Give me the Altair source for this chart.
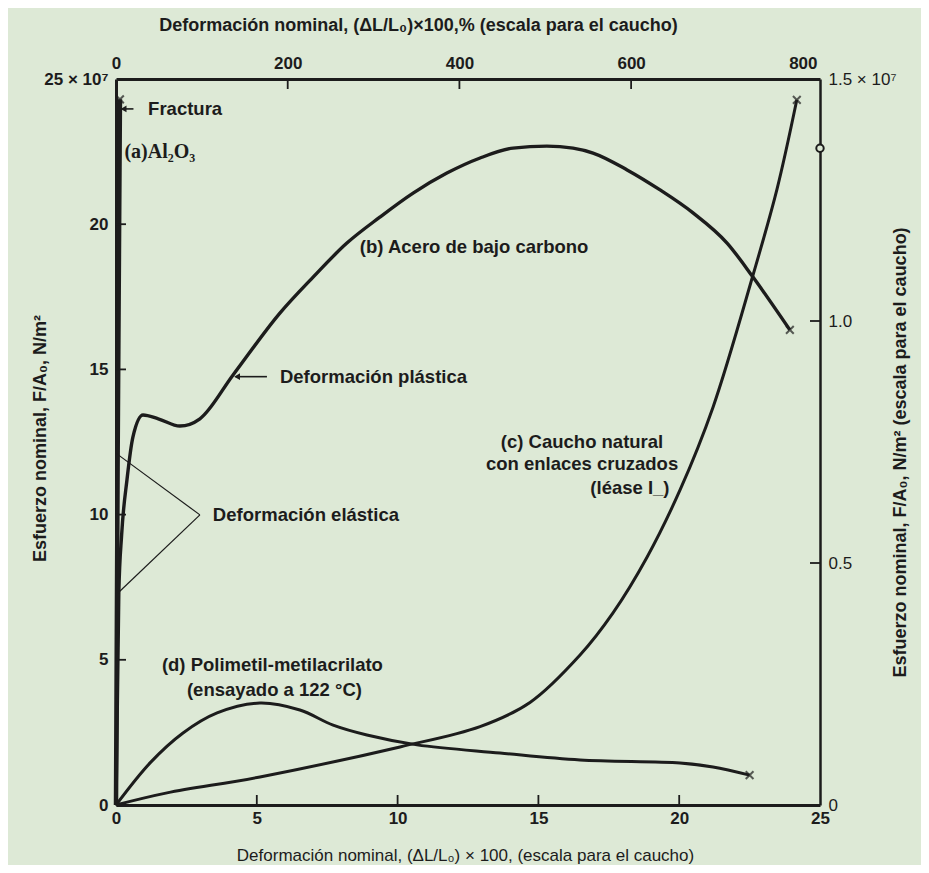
import altair as alt
import pandas as pd

INK = "#1c1c1c"
BG = "#dde9d6"
SANS = "Liberation Sans, Arial, sans-serif"
SERIF = "Liberation Serif, Times New Roman, serif"

# ---------------- data (main scale: strain x100, stress x10^7 N/m^2) -------------
al_strain = [0.0, 0.06, 0.14]
al_stress = [0.0, 12.2, 24.3]

steel_strain = [0.0, 0.1, 0.2, 0.39, 0.6, 0.96, 1.5, 2.27, 2.98, 4.15, 5.82, 7.0,
                8.2, 9.38, 10.55, 11.75, 12.93, 14.1, 15.3, 16.23, 16.94, 18.15,
                19.32, 20.49, 21.7, 22.62, 23.93]
steel_stress = [0.0, 7.3, 9.3, 11.2, 12.67, 13.43, 13.3, 13.05, 13.3, 14.8, 16.94,
                18.18, 19.35, 20.25, 21.07, 21.76, 22.28, 22.62, 22.69, 22.62, 22.45,
                21.87, 21.18, 20.39, 19.35, 18.18, 16.36]

pmma_strain = [0.0, 1.21, 2.38, 3.59, 5.11, 6.53, 7.71, 8.91, 10.69, 13.64, 16.48,
               20.03, 21.2, 22.5]
pmma_stress = [0.0, 1.45, 2.48, 3.17, 3.51, 3.27, 2.75, 2.41, 2.07, 1.79, 1.55,
               1.45, 1.31, 1.03]

# ---------------- rubber (own scale: strain %, stress x10^7 N/m^2) -------------
rub_strain = [0.0, 59.4, 167.7, 330.8, 424.0, 482.2, 540.5, 578.9, 618.5, 657.0,
              695.4, 742.0, 770.0, 793.0]
rub_stress = [0.0, 0.025, 0.058, 0.12, 0.162, 0.212, 0.31, 0.397, 0.512, 0.651,
              0.822, 1.095, 1.273, 1.457]
ring_strain = [820.0]
ring_stress = [1.357]

# fracture marks
frac_strain = [0.14, 23.93, 22.5]
frac_stress = [24.3, 16.36, 1.03]

# axis ticks
bottom_ticks = [0, 5, 10, 15, 20, 25]
left_ticks = [0, 5, 10, 15, 20, 25]
top_ticks = [0, 200, 400, 600, 800]
right_ticks = [0, 0.5, 1.0, 1.5]

# annotations (main scale)
note_labels = ["Fractura", "Deformación plástica", "Deformación elástica",
               "(b) Acero de bajo carbono", "(d) Polimetil-metilacrilato",
               "(ensayado a 122 °C)"]
note_x = [1.14, 5.82, 3.44, 8.66, 1.63, 2.52]
note_y = [23.97, 14.75, 9.99, 19.21, 4.82, 3.96]

center_labels = ["(c) Caucho natural", "con enlaces cruzados", "(léase I_)"]
center_x = [16.55, 16.55, 18.25]
center_y = [12.5, 11.74, 10.92]

serif_labels = ["(a)Al₂O₃"]
serif_x = [0.3]
serif_y = [22.49]

lead_x = [2.98, 2.98, 5.36, 0.62]
lead_y = [9.99, 9.99, 14.75, 23.97]
lead_x2 = [0.02, 0.07, 4.25, 0.22]
lead_y2 = [12.1, 7.3, 14.75, 23.97]
lead_w = [1.2, 1.2, 1.6, 1.6]

head_x = [4.3, 0.27]
head_y = [14.75, 23.97]

# ---------------- frames -------------
al_df = pd.DataFrame({"e": al_strain, "s": al_stress})
steel_df = pd.DataFrame({"e": steel_strain, "s": steel_stress})
pmma_df = pd.DataFrame({"e": pmma_strain, "s": pmma_stress})
rub_df = pd.DataFrame({"e": rub_strain, "s": rub_stress})
ring_df = pd.DataFrame({"e": ring_strain, "s": ring_stress})
frac_df = pd.DataFrame({"e": frac_strain, "s": frac_stress})
rub_frac_df = pd.DataFrame({"e": [rub_strain[-1]], "s": [rub_stress[-1]]})
note_df = pd.DataFrame({"e": note_x, "s": note_y, "label": note_labels})
center_df = pd.DataFrame({"e": center_x, "s": center_y, "label": center_labels})
serif_df = pd.DataFrame({"e": serif_x, "s": serif_y, "label": serif_labels})
lead_df = pd.DataFrame({"e": lead_x, "s": lead_y, "e2": lead_x2, "s2": lead_y2, "w": lead_w})
head_df = pd.DataFrame({"e": head_x, "s": head_y})
bt_df = pd.DataFrame({"e": bottom_ticks[1:-1]})
lt_df = pd.DataFrame({"s": left_ticks[1:-1]})
tt_df = pd.DataFrame({"e": top_ticks[1:-1]})
rt_df = pd.DataFrame({"s": right_ticks[1:-1]})

W, H = 704, 726

XM = alt.Scale(domain=[0, 25], nice=False, zero=False)
YM = alt.Scale(domain=[0, 25], nice=False, zero=False)
XR = alt.Scale(domain=[0, 820], nice=False, zero=False)
YR = alt.Scale(domain=[0, 1.5], nice=False, zero=False)

common_axis = dict(tickSize=0, labelFontSize=17, labelColor=INK,
                   labelFont=SANS, domainColor=INK, grid=False, labelFlush=False,
                   labelOverlap=False, titleColor=INK, titleFont=SANS)

bottom_axis = alt.Axis(orient="bottom", values=bottom_ticks, labelPadding=5, domainWidth=3,
                       labelFontWeight="bold",
                       title="Deformación nominal, (ΔL/L₀) × 100, (escala para el caucho)",
                       titleFontSize=17, titleFontWeight="normal", titleX=349, titleY=50,
                       titleBaseline="middle", **common_axis)
left_axis = alt.Axis(orient="left", values=left_ticks, labelPadding=8, domainWidth=3,
                     labelFontWeight="bold",
                     labelExpr="datum.value == 25 ? '25 × 10⁷' : datum.label",
                     title="Esfuerzo nominal, F/A₀, N/m²", titleFontSize=18,
                     titleFontWeight="bold", titleAngle=270, titleX=-76, titleY=359,
                     titleBaseline="middle", titleAlign="center", **common_axis)
top_axis = alt.Axis(orient="top", values=top_ticks, labelPadding=7, domainWidth=3,
                    labelFontWeight="bold",
                    title="Deformación nominal, (ΔL/L₀)×100,% (escala para el caucho)",
                    titleFontSize=18, titleFontWeight="bold", titleX=302, titleY=-54,
                    titleBaseline="middle", **common_axis)
right_axis = alt.Axis(orient="right", values=right_ticks, labelPadding=8, domainWidth=2.5,
                      labelFontWeight="normal",
                      labelExpr="datum.value == 0 ? '0' : datum.value == 1.5 ? '1.5 × 10⁷' : format(datum.value, '.1f')",
                      title="Esfuerzo nominal, F/A₀, N/m² (escala para el caucho)",
                      titleFontSize=18, titleFontWeight="bold", titleAngle=270, titleX=80,
                      titleY=373, titleBaseline="middle", titleAlign="center", **common_axis)


def ex():
    return alt.X("e:Q", scale=XM, axis=bottom_axis)


def sy():
    return alt.Y("s:Q", scale=YM, axis=left_axis)


steel = alt.Chart(steel_df).mark_line(color=INK, strokeWidth=3.4, interpolate="monotone").encode(
    x=ex(), y=sy())
al = alt.Chart(al_df).mark_line(color=INK, strokeWidth=4.5).encode(x=ex(), y=sy())
pmma = alt.Chart(pmma_df).mark_line(color=INK, strokeWidth=3, interpolate="catmull-rom").encode(
    x=ex(), y=sy())
XSHAPE = "M-1,-1L1,1M1,-1L-1,1"
frac = alt.Chart(frac_df).mark_point(shape=XSHAPE, filled=False, color=INK, size=60,
                                     strokeWidth=2).encode(x=ex(), y=sy())
leads = alt.Chart(lead_df).mark_rule(color=INK).encode(
    x=ex(), y=sy(), x2="e2:Q", y2="s2:Q", strokeWidth=alt.StrokeWidth("w:Q", scale=None))
heads = alt.Chart(head_df).mark_point(shape="triangle-left", filled=True, color=INK, size=45,
                                      opacity=1).encode(x=ex(), y=sy())
notes = alt.Chart(note_df).mark_text(align="left", baseline="middle", font=SANS, fontSize=18.5,
                                     fontWeight="bold", color=INK).encode(
    x=ex(), y=sy(), text="label:N")
centers = alt.Chart(center_df).mark_text(align="center", baseline="middle", font=SANS,
                                         fontSize=18.5, fontWeight="bold", color=INK).encode(
    x=ex(), y=sy(), text="label:N")
serif = alt.Chart(serif_df).mark_text(align="left", baseline="middle", font=SERIF,
                                      fontSize=20, fontWeight="bold", color=INK).encode(
    x=ex(), y=sy(), text="label:N")
bticks = alt.Chart(bt_df).mark_rule(color=INK, strokeWidth=1.8).encode(
    x=ex(), y=alt.value(H), y2=alt.value(H - 10))
lticks = alt.Chart(lt_df).mark_rule(color=INK, strokeWidth=1.8).encode(
    y=sy(), x=alt.value(0), x2=alt.value(10))

main = alt.layer(steel, al, pmma, frac, leads, heads, notes, centers, serif, bticks, lticks)


def rx():
    return alt.X("e:Q", scale=XR, axis=top_axis)


def ry():
    return alt.Y("s:Q", scale=YR, axis=right_axis)


rubber = alt.Chart(rub_df).mark_line(color=INK, strokeWidth=3, interpolate="catmull-rom").encode(
    x=rx(), y=ry())
rub_frac = alt.Chart(rub_frac_df).mark_point(shape=XSHAPE, filled=False, color=INK, size=60,
                                             strokeWidth=2).encode(x=rx(), y=ry())
ring = alt.Chart(ring_df).mark_point(shape="circle", filled=True, fill=BG, stroke=INK,
                                     size=55, strokeWidth=2, opacity=1).encode(x=rx(), y=ry())
tticks = alt.Chart(tt_df).mark_rule(color=INK, strokeWidth=1.8).encode(
    x=rx(), y=alt.value(0), y2=alt.value(10))
rticks = alt.Chart(rt_df).mark_rule(color=INK, strokeWidth=1.8).encode(
    y=ry(), x=alt.value(W), x2=alt.value(W - 10))

rub = alt.layer(rubber, rub_frac, ring, tticks, rticks)

chart = alt.layer(main, rub).resolve_scale(x="independent", y="independent").properties(
    width=W, height=H,
    padding={"left": 108, "top": 71, "right": 101, "bottom": 60},
    autosize=alt.AutoSizeParams(type="none"),
    background=BG,
).configure_view(stroke=None)

chart.save("out.html", embed_options={"renderer": "svg", "actions": False})
